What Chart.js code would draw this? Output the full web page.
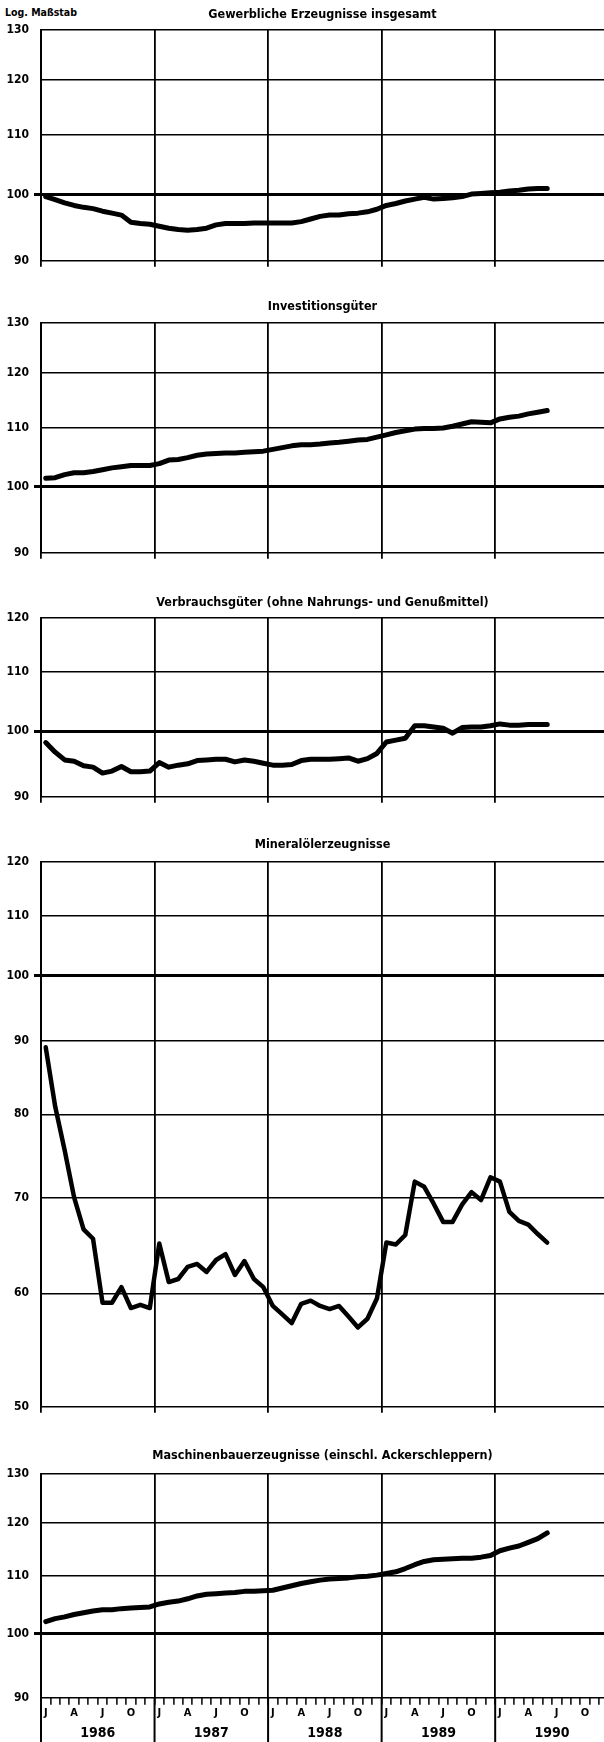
<!DOCTYPE html>
<html>
<head>
<meta charset="utf-8">
<script src="https://cdn.jsdelivr.net/npm/chart.js@4.4.1/dist/chart.umd.min.js"></script>
<style>
html,body{margin:0;padding:0;background:#fff;}
body{width:604px;height:1742px;position:relative;overflow:hidden;}
canvas{position:absolute;left:0;}
#logm{position:absolute;left:5px;top:6px;font:bold 10.5px 'Liberation Sans Narrow','DejaVu Sans Condensed',sans-serif;color:#000;}
</style>
</head>
<body>
<div id="logm">Log. Maßstab</div>
<canvas id="c1"></canvas>
<canvas id="c2"></canvas>
<canvas id="c3"></canvas>
<canvas id="c4"></canvas>
<canvas id="c5"></canvas>
<script>
// ---------- data ----------
const years = ['1986', '1987', '1988', '1989', '1990'];
const monthLetters = ['J', 'F', 'M', 'A', 'M', 'J', 'J', 'A', 'S', 'O', 'N', 'D'];
const shownMonths = ['J', 'A', 'J', 'O']; // Januar, April, Juli, Oktober

const titles = [
  'Gewerbliche Erzeugnisse insgesamt',
  'Investitionsgüter',
  'Verbrauchsgüter (ohne Nahrungs- und Genußmittel)',
  'Mineralölerzeugnisse',
  'Maschinenbauerzeugnisse (einschl. Ackerschleppern)'
];

const yTicksWide = [90, 100, 110, 120, 130];
const yTicksNarrow = [90, 100, 110, 120];
const yTicksMineral = [50, 60, 70, 80, 90, 100, 110, 120];

// monthly values, Jan 1986 .. Jun 1990 (log scale)
const gewerbliche = [99.7, 99.2, 98.7, 98.3, 98.0, 97.8, 97.4, 97.1, 96.8, 95.7,
  95.5, 95.4, 95.1, 94.8, 94.6, 94.5, 94.6, 94.8, 95.3, 95.5,
  95.5, 95.5, 95.6, 95.6, 95.6, 95.6, 95.6, 95.8, 96.2, 96.6,
  96.8, 96.8, 97.0, 97.1, 97.3, 97.7, 98.3, 98.6, 99.0, 99.3,
  99.6, 99.3, 99.4, 99.5, 99.7, 100.1, 100.2, 100.3, 100.4, 100.6,
  100.7, 100.9, 101.0, 101.0];

const investition = [101.4, 101.5, 102.0, 102.3, 102.3, 102.5, 102.8, 103.1, 103.3, 103.5,
  103.5, 103.5, 103.8, 104.4, 104.5, 104.8, 105.2, 105.4, 105.5, 105.6,
  105.6, 105.7, 105.8, 105.9, 106.2, 106.5, 106.8, 107.0, 107.0, 107.1,
  107.3, 107.4, 107.6, 107.8, 107.9, 108.3, 108.7, 109.1, 109.4, 109.7,
  109.8, 109.8, 109.9, 110.2, 110.6, 111.0, 110.9, 110.8, 111.5, 111.8,
  112.0, 112.4, 112.7, 113.0];

const verbrauch = [98.2, 96.7, 95.5, 95.3, 94.6, 94.4, 93.5, 93.8, 94.5, 93.7,
  93.7, 93.8, 95.1, 94.4, 94.7, 94.9, 95.4, 95.5, 95.6, 95.6,
  95.2, 95.5, 95.3, 95.0, 94.7, 94.7, 94.8, 95.4, 95.6, 95.6,
  95.6, 95.7, 95.8, 95.3, 95.7, 96.5, 98.3, 98.6, 98.9, 100.9,
  100.9, 100.7, 100.5, 99.7, 100.6, 100.7, 100.7, 100.9, 101.2, 101.0,
  101.0, 101.1, 101.1, 101.1];

const mineraloel = [89.1, 81.0, 75.5, 70.0, 66.5, 65.5, 59.1, 59.1, 60.6, 58.6,
  58.9, 58.6, 65.0, 61.1, 61.4, 62.6, 62.9, 62.1, 63.3, 63.9,
  61.8, 63.2, 61.4, 60.6, 58.8, 58.0, 57.2, 59.0, 59.3, 58.8,
  58.5, 58.8, 57.8, 56.8, 57.6, 59.5, 65.1, 64.9, 65.9, 71.8,
  71.2, 69.3, 67.3, 67.3, 69.2, 70.6, 69.7, 72.3, 71.8, 68.4,
  67.4, 67.0, 66.0, 65.1];

const maschinen = [102.0, 102.5, 102.8, 103.2, 103.5, 103.8, 104.0, 104.0, 104.2, 104.3,
  104.4, 104.5, 105.0, 105.3, 105.5, 105.9, 106.4, 106.7, 106.8, 106.9,
  107.0, 107.2, 107.2, 107.3, 107.4, 107.8, 108.2, 108.6, 108.9, 109.2,
  109.4, 109.5, 109.6, 109.8, 109.9, 110.1, 110.4, 110.7, 111.3, 112.0,
  112.6, 112.9, 113.0, 113.1, 113.2, 113.2, 113.4, 113.7, 114.6, 115.1,
  115.5, 116.2, 116.9, 118.0];

// ---------- layout ----------
const FONT = "'Liberation Sans Narrow','DejaVu Sans Condensed',sans-serif";
Chart.defaults.font.family = FONT;
Chart.defaults.font.weight = 'bold';
Chart.defaults.color = '#000';

const X_MAX = 59.5;        // months shown (axis is cut at the page edge)
const AXIS_W = 41;         // width of the y-axis label column
const TITLE_SIZE = 12.5;
const TITLE_LH = TITLE_SIZE * 1.2;
const MONTH_SIZE = 11;
const YEAR_SIZE = 14;

const panels = [
  {id: 'c1', title: titles[0], values: gewerbliche, ticks: yTicksWide, areaTop: 30, areaBottom: 263, titleY: 15, lw: 5},
  {id: 'c2', title: titles[1], values: investition, ticks: yTicksWide, areaTop: 323, areaBottom: 555, titleY: 307, lw: 5},
  {id: 'c3', title: titles[2], values: verbrauch, ticks: yTicksNarrow, areaTop: 618, areaBottom: 799, titleY: 603, lw: 5},
  {id: 'c4', title: titles[3], values: mineraloel, ticks: yTicksMineral, areaTop: 862, areaBottom: 1409, titleY: 845, lw: 4.5},
  {id: 'c5', title: titles[4], values: maschinen, ticks: yTicksWide, areaTop: 1474, areaBottom: 1702, titleY: 1456, lw: 5, last: true}
];

const yearStarts = years.map((_, k) => k * 12);
const yearMids = years.map((_, k) => k * 12 + 6);
const monthMids = [];
for (let m = 0; m + 0.5 < X_MAX; m++) monthMids.push(m + 0.5);

const separators = {
  id: 'separators',
  afterDraw(chart, args, opts) {
    if (!opts.on) return;
    const {ctx, chartArea} = chart;
    const xs = chart.scales.x;
    ctx.save();
    ctx.strokeStyle = '#000';
    ctx.lineWidth = 2;
    yearStarts.forEach(v => {
      const px = xs.getPixelForValue(v);
      ctx.beginPath();
      ctx.moveTo(px, chartArea.bottom);
      ctx.lineTo(px, chart.height);
      ctx.stroke();
    });
    ctx.restore();
  }
};

function makePanel(p) {
  const canvas = document.getElementById(p.id);
  const canvasTop = p.areaTop - 30;
  const monthAxisH = 7 + 2 + MONTH_SIZE * 1.2;
  const yearPad = 11 - YEAR_SIZE * 0.6 - 0.0;
  const yearAxisH = yearPad + YEAR_SIZE * 1.2;
  const xAxisH = p.last ? monthAxisH + yearAxisH : 6;
  const padBottom = p.last ? 0 : 4;
  const height = Math.round(p.areaBottom - canvasTop + xAxisH + padBottom);
  canvas.width = 604;
  canvas.height = height;
  canvas.style.top = canvasTop + 'px';
  const tc = p.titleY - canvasTop;
  const pt = tc - TITLE_LH / 2;
  const pb = (p.areaTop - canvasTop) - pt - TITLE_LH;

  const yScale = {
    type: 'logarithmic',
    min: p.ticks[0],
    max: p.ticks[p.ticks.length - 1],
    afterBuildTicks: s => { s.ticks = p.ticks.map(v => ({value: v})); },
    afterFit: s => { s.width = AXIS_W; },
    ticks: {
      callback: v => String(v),
      padding: 5,
      autoSkip: false,
      font: {size: 12, weight: 'bold'},
      color: '#000'
    },
    grid: {
      color: '#000',
      lineWidth: c => (c.tick && c.tick.value === 100) ? 3 : 1.6,
      drawTicks: true,
      tickLength: 7,
      tickWidth: 3,
      tickColor: c => (c.tick && c.tick.value === 100) ? '#000' : 'rgba(0,0,0,0)'
    },
    border: {display: true, color: '#000', width: 2}
  };

  let scales;
  if (!p.last) {
    scales = {
      x: {
        type: 'linear', min: 0, max: X_MAX,
        afterBuildTicks: s => { s.ticks = yearStarts.map(v => ({value: v})); },
        ticks: {display: false},
        grid: {color: '#000', lineWidth: 1.8, drawTicks: true, tickLength: 6, tickColor: '#000'},
        border: {display: false}
      },
      y: yScale
    };
  } else {
    scales = {
      x: {
        type: 'linear', min: 0, max: X_MAX, weight: 0, position: 'bottom',
        afterBuildTicks: s => { s.ticks = monthMids.map(v => ({value: v})); },
        ticks: {
          autoSkip: false, maxRotation: 0, minRotation: 0, padding: 2,
          font: {size: MONTH_SIZE, weight: 'bold'},
          callback: v => {
            const m = Math.floor(v) % 12;
            return (m % 3 === 0) ? shownMonths[m / 3] : '';
          }
        },
        grid: {
          offset: true,
          color: c => (c.index !== undefined && c.index % 12 === 0) ? '#000' : 'rgba(0,0,0,0)',
          lineWidth: 1.8,
          drawTicks: true, tickLength: 7, tickWidth: 1.5, tickColor: '#000'
        },
        border: {display: false}
      },
      x2: {
        type: 'linear', min: 0, max: X_MAX, weight: 1, position: 'bottom',
        afterBuildTicks: s => { s.ticks = yearMids.map(v => ({value: v})); },
        ticks: {
          autoSkip: false, maxRotation: 0, minRotation: 0, padding: yearPad,
          font: {size: YEAR_SIZE, weight: 'bold'},
          callback: (v, i) => years[i]
        },
        grid: {display: false, drawTicks: false},
        border: {display: false}
      },
      y: yScale
    };
  }

  new Chart(canvas, {
    type: 'line',
    data: {
      datasets: [{
        data: p.values.map((v, i) => ({x: i + 0.5, y: v})),
        borderColor: '#000',
        borderWidth: p.lw,
        pointRadius: 0,
        tension: 0,
        fill: false,
        xAxisID: 'x',
        yAxisID: 'y',
        borderJoinStyle: 'round',
        borderCapStyle: 'round'
      }]
    },
    options: {
      responsive: false,
      maintainAspectRatio: false,
      animation: false,
      devicePixelRatio: 1,
      layout: {padding: {left: 0, right: 0, top: 0, bottom: padBottom}},
      plugins: {
        legend: {display: false},
        tooltip: {enabled: false},
        title: {
          display: true, text: p.title, fullSize: false, color: '#000',
          font: {size: TITLE_SIZE, weight: 'bold'},
          padding: {top: pt, bottom: pb}
        },
        separators: {on: !!p.last}
      },
      scales: scales
    },
    plugins: [separators]
  });
}

panels.forEach(makePanel);
</script>
</body>
</html>
